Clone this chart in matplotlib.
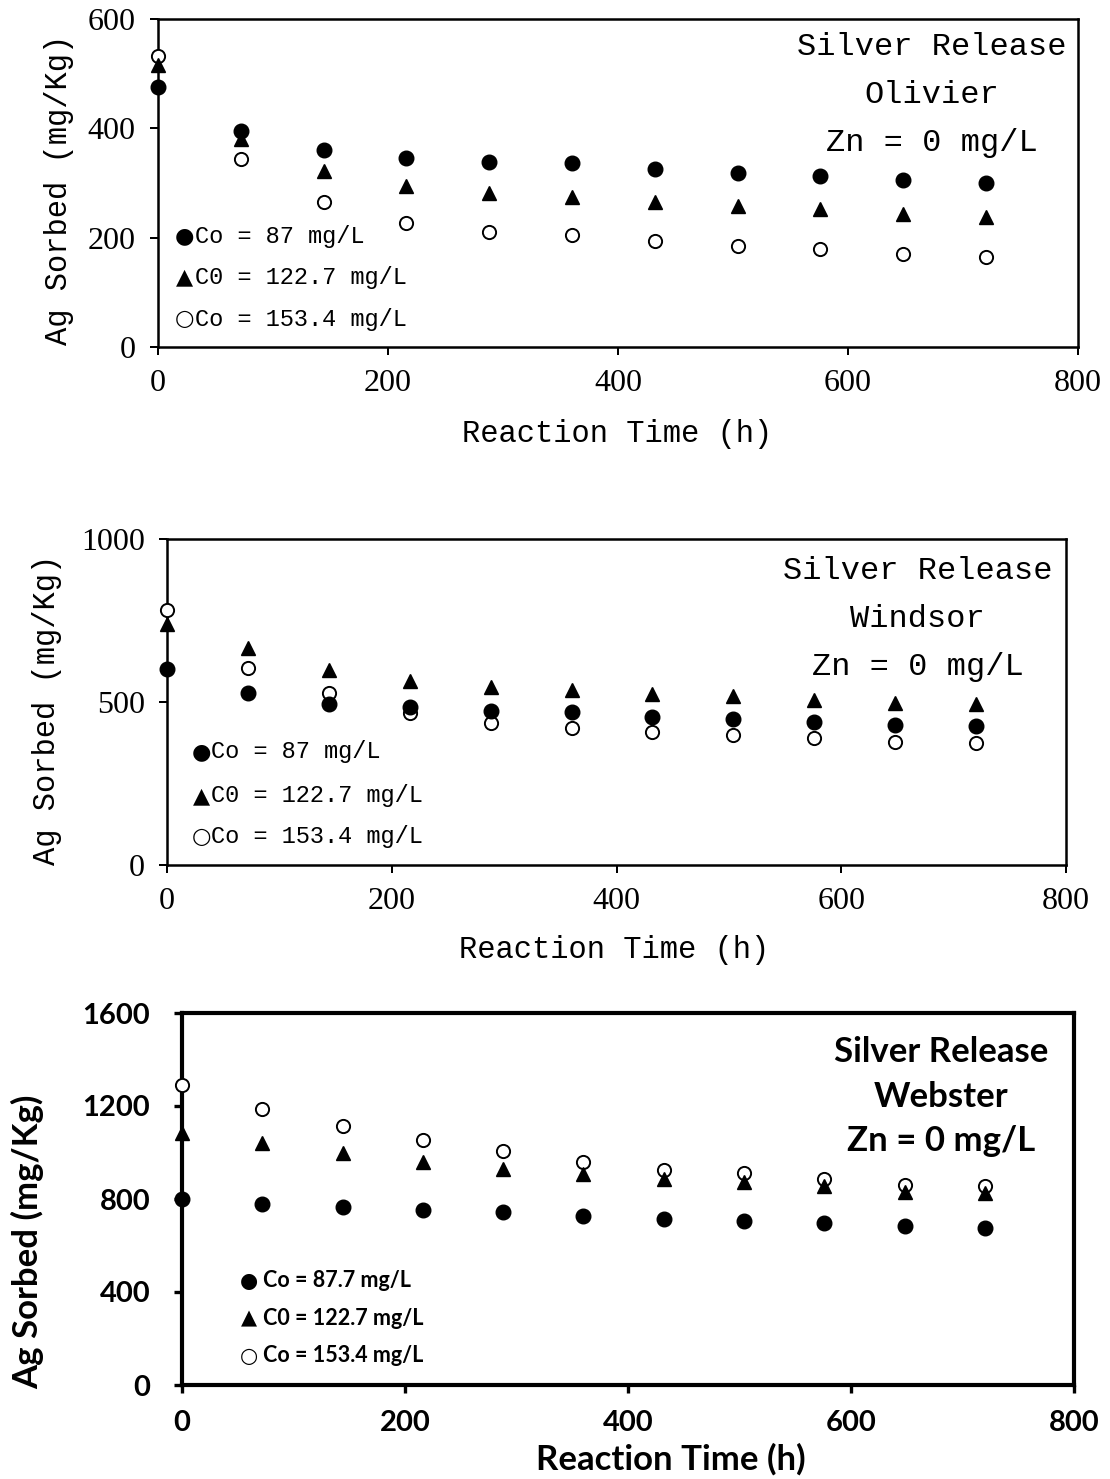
import matplotlib
matplotlib.use("Agg")
import matplotlib.pyplot as plt

# sampling times (h) shared by all three soils
hours = [0, 72, 144, 216, 288, 360, 432, 504, 576, 648, 720]

# Olivier soil, Ag sorbed (mg/Kg)
olivier_87 = [475, 396, 360, 346, 338, 336, 326, 319, 313, 305, 300]
olivier_122 = [516, 380, 322, 294, 282, 275, 266, 258, 252, 244, 238]
olivier_153 = [532, 344, 265, 227, 211, 205, 193, 185, 179, 170, 165]

# Windsor soil
windsor_87 = [602, 527, 493, 484, 473, 468, 455, 448, 440, 430, 425]
windsor_122 = [740, 667, 599, 563, 545, 537, 525, 517, 507, 498, 493]
windsor_153 = [783, 604, 529, 466, 437, 420, 407, 399, 389, 377, 374]

# Webster soil
webster_87 = [799, 779, 765, 753, 742, 729, 716, 707, 696, 686, 674]
webster_122 = [1083, 1040, 997, 961, 930, 907, 885, 875, 854, 832, 825]
webster_153 = [1289, 1188, 1112, 1055, 1006, 961, 926, 911, 887, 861, 854]

key_symbols = ["●", "▲", "○"]
labels_short = ["Co = 87 mg/L", "C0 = 122.7 mg/L", "Co = 153.4 mg/L"]
labels_webster = ["Co = 87.7 mg/L", "C0 = 122.7 mg/L", "Co = 153.4 mg/L"]

MONO = ["Liberation Mono", "DejaVu Sans"]
SERIF = ["Liberation Serif", "DejaVu Serif"]
BOLD = ["Lato", "DejaVu Sans"]


def draw_panel(ax, y87, y122, y153, ymax, ystep, soil, legend, style):
    ax.plot(hours, y153, "o", ms=style["ms"] - 1, mfc="white", mec="black",
            mew=1.4, clip_on=False, zorder=3)
    ax.plot(hours, y122, "^", ms=style["ms"], color="black",
            clip_on=False, zorder=4)
    ax.plot(hours, y87, "o", ms=style["ms"], color="black",
            clip_on=False, zorder=5)

    ax.set_xlim(0, 800)
    ax.set_ylim(0, ymax)
    ax.set_xticks(range(0, 801, 200))
    ax.set_yticks(range(0, ymax + 1, ystep))
    for s in ax.spines.values():
        s.set_linewidth(style["spine"])
    ax.tick_params(direction="out", length=6, width=style["spine"] * 0.8,
                   labelsize=style["tick_size"])
    ax.tick_params(axis="x", pad=style["xtick_pad"])
    ax.tick_params(axis="y", pad=style["ytick_pad"])
    for lab in ax.get_xticklabels() + ax.get_yticklabels():
        lab.set_family(style["tick_font"])
        lab.set_fontweight(style["weight"])

    ax.set_xlabel("Reaction Time (h)", family=style["font"],
                  fontsize=style["label_size"], fontweight=style["weight"])
    ax.set_ylabel("Ag Sorbed (mg/Kg)", family=style["font"],
                  fontsize=style["label_size"], fontweight=style["weight"])
    ax.xaxis.set_label_coords(*style["xlab_at"])
    ax.yaxis.set_label_coords(*style["ylab_at"])

    # site note, one line at a time
    note = ["Silver Release", soil, "Zn = 0 mg/L"]
    for line, y in zip(note, style["note_y"]):
        ax.text(style["note_x"], y, line, transform=ax.transAxes,
                ha="center", va="center", family=style["font"],
                fontsize=style["note_size"], fontweight=style["weight"])

    # series key: symbol glyph + text
    for sym, line, y in zip(key_symbols, legend, style["leg_y"]):
        ax.text(style["sym_x"], y, sym, transform=ax.transAxes,
                ha="center", va="center", family="DejaVu Sans",
                fontsize=style["sym_size"])
        ax.text(style["leg_x"], y, line, transform=ax.transAxes,
                ha="left", va="center", family=style["font"],
                fontsize=style["leg_size"], fontweight=style["weight"])


fig = plt.figure(figsize=(11.1, 14.79), dpi=100)

thin = dict(ms=10.5, spine=1.8, tick_size=23, tick_font=SERIF,
            weight="normal", font=MONO, label_size=22, xtick_pad=10,
            ytick_pad=10, note_size=23, leg_size=17, sym_size=16)

ax1 = fig.add_axes([158 / 1110, 1 - 347 / 1479, 920 / 1110, 328 / 1479])
draw_panel(ax1, olivier_87, olivier_122, olivier_153, 600, 200, "Olivier",
           labels_short,
           dict(thin, note_x=0.841, note_y=[0.915, 0.768, 0.622],
                sym_x=0.029, leg_x=0.040, leg_y=[0.338, 0.213, 0.085],
                xlab_at=(0.499, -0.220), ylab_at=(-0.091, 0.479)))

ax2 = fig.add_axes([167 / 1110, 1 - 865 / 1479, 899 / 1110, 326 / 1479])
draw_panel(ax2, windsor_87, windsor_122, windsor_153, 1000, 500, "Windsor",
           labels_short,
           dict(thin, note_x=0.835, note_y=[0.902, 0.755, 0.607],
                sym_x=0.038, leg_x=0.049, leg_y=[0.347, 0.212, 0.086],
                xlab_at=(0.497, -0.215), ylab_at=(-0.117, 0.475)))

bold = dict(ms=10.5, spine=3.0, tick_size=21, tick_font=BOLD, weight="bold",
            font=BOLD, label_size=25, xtick_pad=12, ytick_pad=17,
            note_size=25, leg_size=15.5, sym_size=15)

ax3 = fig.add_axes([182 / 1110, 1 - 1385 / 1479, 892 / 1110, 372 / 1479])
draw_panel(ax3, webster_87, webster_122, webster_153, 1600, 400, "Webster",
           labels_webster,
           dict(bold, note_x=0.851, note_y=[0.895, 0.774, 0.656],
                sym_x=0.075, leg_x=0.091, leg_y=[0.280, 0.180, 0.078],
                xlab_at=(0.548, -0.156), ylab_at=(-0.155, 0.384)))

fig.savefig("out.png", dpi=100)
